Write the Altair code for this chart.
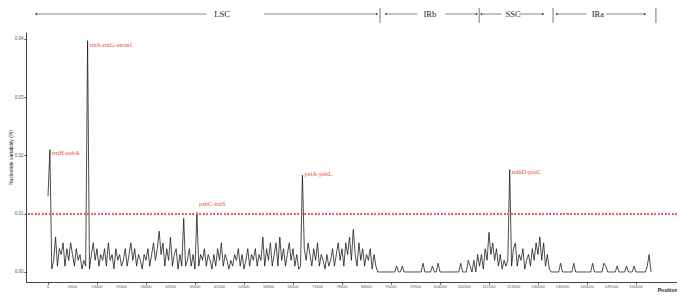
import altair as alt
import pandas as pd

# ---------------- data ----------------
STEP = 500
lsc_pi = [
    0.013, 0.021, 0.0005, 0.002, 0.006, 0.001, 0.004, 0.003, 0.005, 0.001,
    0.004, 0.002, 0.005, 0.003, 0.001, 0.004, 0.002, 0.003, 0.0005, 0.002,
    0.001, 0.0397, 0.0005, 0.003, 0.005, 0.002, 0.004, 0.001, 0.003, 0.002,
    0.004, 0.001, 0.005, 0.002, 0.003, 0.0005, 0.004, 0.002, 0.003, 0.001,
    0.002, 0.004, 0.001, 0.003, 0.005, 0.002, 0.004, 0.001, 0.003, 0.002,
    0.0005, 0.003, 0.002, 0.004, 0.001, 0.003, 0.005, 0.002, 0.004, 0.007,
    0.003, 0.005, 0.001, 0.004, 0.002, 0.006, 0.001, 0.003, 0.004, 0.0005,
    0.003, 0.001, 0.0092, 0.001, 0.002, 0.004, 0.001, 0.003, 0.0005, 0.0102,
    0.001, 0.003, 0.002, 0.004, 0.001, 0.003, 0.002, 0.0005, 0.003, 0.001,
    0.004, 0.002, 0.005, 0.001, 0.003, 0.002, 0.0005, 0.002, 0.001, 0.003,
    0.002, 0.004, 0.001, 0.003, 0.0005, 0.002, 0.004, 0.001, 0.003, 0.002,
    0.004, 0.001, 0.003, 0.002, 0.006, 0.001, 0.004, 0.002, 0.005, 0.001,
    0.003, 0.005, 0.001, 0.006, 0.002, 0.004, 0.001, 0.003, 0.005, 0.002,
    0.004, 0.001, 0.003, 0.0005, 0.001, 0.0166, 0.004, 0.002, 0.005, 0.003,
    0.001, 0.004, 0.002, 0.005, 0.001, 0.003, 0.002, 0.0005, 0.003, 0.001,
    0.002, 0.004, 0.001, 0.003, 0.005, 0.002, 0.004, 0.001, 0.005, 0.003,
    0.006, 0.002, 0.0073, 0.003, 0.001, 0.005, 0.002, 0.004, 0.001, 0.003,
    0.002, 0.004, 0.0005, 0.003, 0.001, 0.0,
]
irb_pi = [
    0, 0, 0, 0, 0, 0, 0, 0, 0, 0.001,
    0, 0, 0.001, 0, 0, 0, 0, 0, 0, 0,
    0, 0, 0, 0.0015, 0, 0, 0, 0, 0.001, 0,
    0, 0.0015, 0, 0, 0, 0, 0, 0, 0, 0,
    0, 0, 0, 0.0015, 0, 0, 0, 0.002, 0.001, 0,
    0.002, 0, 0.003,
]
ssc_pi = [
    0.001, 0.003, 0.0005, 0.004, 0.002, 0.0068, 0.003, 0.005, 0.002, 0.004,
    0.001, 0.003, 0.0005, 0.002, 0.001, 0.002, 0.0176, 0.001, 0.004, 0.005,
    0.001, 0.003, 0.002, 0.004, 0.0005, 0.002, 0.003, 0.001, 0.004, 0.002,
    0.005, 0.003, 0.006, 0.002, 0.005, 0.001, 0.003, 0.0005, 0.0,
]
ira_pi = [
    0, 0, 0, 0, 0.0015, 0, 0, 0, 0, 0,
    0, 0.0015, 0, 0, 0, 0, 0, 0, 0, 0,
    0, 0.0015, 0, 0, 0, 0, 0, 0.0015, 0.001, 0,
    0, 0, 0, 0, 0.001, 0, 0, 0, 0, 0.001,
    0, 0, 0, 0.001, 0, 0, 0, 0, 0, 0,
    0.001, 0.003, 0,
]
pi_values = lsc_pi + irb_pi + ssc_pi + ira_pi
positions = [i * STEP for i in range(len(pi_values))]

x_ticks = [i * 6500 for i in range(25)]
x_tick_labels = [str(v) for v in x_ticks]
y_ticks = [0, 0.01, 0.02, 0.03, 0.04]

label_names = ["trnH-psbA", "trnS-trnG-exon1", "psbC-trnS", "petA-psbL", "ndhD-psaC"]
label_pos = [500, 10500, 39500, 67500, 122500]
label_pi = [0.0204, 0.0389, 0.0117, 0.0168, 0.0172]

threshold = 0.01

region_names = ["LSC", "IRb", "SSC", "IRa"]
region_text_pos = [46200, 101300, 123400, 145900]
region_bounds = [88100, 114400, 134000, 161300]
# arrow segments (start, end) and arrow heads
seg_start = [-3200, 57300, 89600, 105400, 114900, 125000, 134900, 148100]
seg_end = [42000, 87300, 98000, 113800, 120300, 131400, 142800, 158400]
head_left = [-3200, 89600, 114900, 134900]
head_right = [87300, 113800, 131400, 158400]

# ---------------- frames ----------------
df = pd.DataFrame({"Position": positions, "Pi": pi_values})
lab = pd.DataFrame({"name": label_names, "pos": label_pos, "pi": label_pi})
reg = pd.DataFrame({"name": region_names, "pos": region_text_pos})
bnd = pd.DataFrame({"pos": region_bounds})
seg = pd.DataFrame({"x": seg_start, "x2": seg_end})
hl = pd.DataFrame({"pos": head_left})
hr = pd.DataFrame({"pos": head_right})
xt = pd.DataFrame({"pos": x_ticks, "txt": x_tick_labels})

xscale = alt.Scale(domain=[-5840, 166890], nice=False, zero=False)
yscale = alt.Scale(domain=[-0.00172, 0.0412], nice=False, zero=False)

line = alt.Chart(df).mark_line(color="#111111", strokeWidth=0.75).encode(
    x=alt.X("Position:Q", scale=xscale,
            axis=alt.Axis(values=x_ticks, labels=False, title="Position",
                          titleAnchor="end", titleAlign="right", titleFontSize=5,
                          titleFontWeight="bold", titlePadding=3, tickSize=2,
                          titleColor="#222222",
                          domainColor="#444444", tickColor="#444444", grid=False)),
    y=alt.Y("Pi:Q", scale=yscale,
            axis=alt.Axis(values=y_ticks, format=".2f",
                          title="Nucleotide variability (Pi)", titleFontSize=5,
                          titleFontWeight="normal", titlePadding=1,
                          labelFontSize=4.5, labelPadding=1, tickSize=2,
                          labelColor="#555555", titleColor="#222222",
                          domainColor="#444444", tickColor="#444444", grid=False)),
)

xlabels = alt.Chart(xt).mark_text(
    align="center", baseline="top", font="Liberation Sans", fontSize=4, color="#555555"
).encode(x=alt.X("pos:Q", scale=xscale), y=alt.value(252.5), text="txt:N")

hline = alt.Chart(df).mark_rule(color="#e06666", strokeDash=[1.5, 2], strokeWidth=0.9).encode(
    y=alt.datum(threshold)
)

labels = alt.Chart(lab).mark_text(
    align="left", baseline="middle", dx=2, color="#e8473b",
    font="Liberation Serif", fontSize=6.5
).encode(x=alt.X("pos:Q", scale=xscale),
         y=alt.Y("pi:Q", scale=yscale), text="name:N")

segs = alt.Chart(seg).mark_rule(color="#333333", strokeWidth=0.6).encode(
    x=alt.X("x:Q", scale=xscale), x2="x2:Q", y=alt.value(-18)
)
bars = alt.Chart(bnd).mark_rule(color="#555555", strokeWidth=0.8).encode(
    x=alt.X("pos:Q", scale=xscale), y=alt.value(-29), y2=alt.value(-9)
)
hleft = alt.Chart(hl).mark_point(shape="triangle-left", filled=True, size=6,
                                 color="#333333", opacity=1).encode(
    x=alt.X("pos:Q", scale=xscale), y=alt.value(-18)
)
hright = alt.Chart(hr).mark_point(shape="triangle-right", filled=True, size=6,
                                  color="#333333", opacity=1).encode(
    x=alt.X("pos:Q", scale=xscale), y=alt.value(-18)
)
rtext = alt.Chart(reg).mark_text(
    align="center", baseline="middle", font="Liberation Serif", fontSize=8.5, color="#222222"
).encode(x=alt.X("pos:Q", scale=xscale), y=alt.value(-18), text="name:N")

chart = alt.layer(line, hline, labels, xlabels, segs, bars, hleft, hright, rtext).properties(
    width=651, height=250,
    autosize=alt.AutoSizeParams(type="none"),
    padding={"left": 18, "top": 24, "right": 0, "bottom": 11},
).configure_view(stroke=None).configure_axis(
    labelFont="Liberation Sans", titleFont="Liberation Sans"
)

chart.save("out.html", embed_options={"renderer": "svg", "actions": False})
